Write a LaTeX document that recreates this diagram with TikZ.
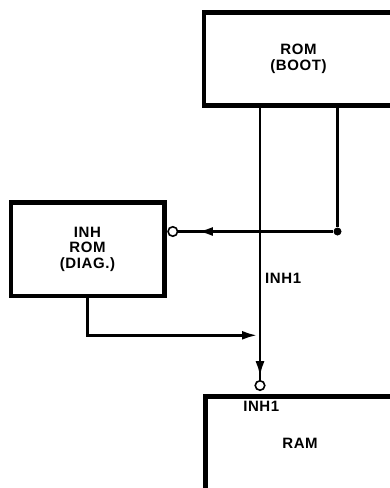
\documentclass[tikz,border=0pt]{standalone}
\usepackage{fontspec}
\setmainfont{Liberation Sans}[LetterSpace=4]
\usetikzlibrary{arrows.meta,decorations.markings}

\tikzset{
  blk/.style={draw, line width=4.5pt, align=center, inner sep=0pt},
  wire/.style={line width=2.4pt},
  inv/.style={circle, draw, line width=1.6pt, fill=white, inner sep=0pt, minimum size=9.5pt},
  junc/.style={circle, fill, inner sep=0pt, minimum size=8pt},
  tipat/.style={postaction={decorate}, decoration={markings,
      mark=at position #1 with {\draw[-{Latex[length=15pt,width=9pt]}] (-2pt,0) -- (0,0);}}},
}

\begin{document}
\begin{tikzpicture}[x=1pt, y=-1pt, >={Latex[length=15pt,width=9pt]},
    font=\fontsize{15}{15.5}\selectfont\bfseries]
	\clip (0,0) rectangle (390,488);
	% blocks
	\node[blk, minimum width=189pt, minimum height=93pt] (rom) at (298.5,59) {ROM\\(BOOT)};
	\node[blk, minimum width=153.5pt, minimum height=93.5pt] (inhrom) at (87.5,249.25) {INH\\ROM\\(DIAG.)};
	\node[blk, anchor=north west, minimum width=189pt, minimum height=104pt] (ram) at (203.3,394.2)
	  {\raisebox{5pt}[\height][\depth]{RAM}};
	% inverting inputs and junction
	\node[inv] (inva) at (172.8,231.5) {};
	\node[inv] (invb) at (260,385.5) {};
	\node[junc] (jn) at (337.5,231.5) {};
	\coordinate (merge) at (260,335.3);
	% connectors
	\draw[wire, tipat=-3.75pt] (rom.south -| invb) -- (invb.north);
	\draw[wire] (rom.south -| jn) -- (jn);
	\draw[wire, tipat=-19.5pt] (jn) -- (inva.east);
	\draw[wire, ->, shorten >=3pt] (inhrom.south) |- (merge);
	% labels
	\node[anchor=base west, inner sep=0pt] (lbla) at (265,283.3) {INH1};
	\node[anchor=base, inner sep=0pt] (lblb) at (261.3,411) {INH1};
\end{tikzpicture}
\end{document}
